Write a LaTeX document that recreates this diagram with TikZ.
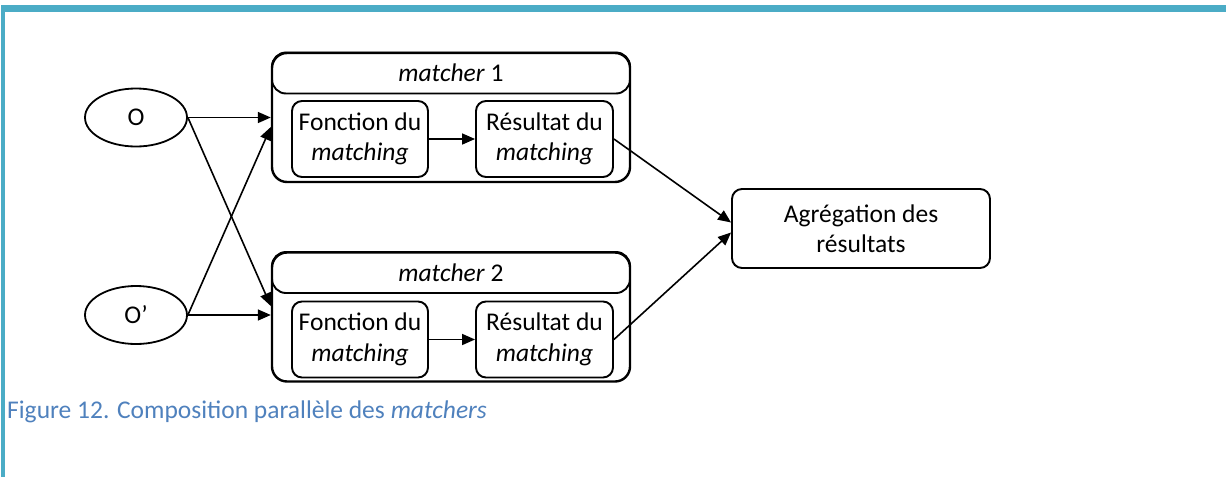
\documentclass[tikz,border=0pt]{standalone}
\usepackage{fontspec}
\setmainfont{Carlito}
\usetikzlibrary{shapes.geometric,arrows.meta,calc}
\definecolor{framec}{HTML}{4BACC6}
\definecolor{capc}{HTML}{4F81BD}
\begin{document}
\begin{tikzpicture}[x=1pt,y=-1pt,
  every node/.style={font=\fontsize{25.5}{30.5}\selectfont, inner sep=0pt},
  ell/.style={ellipse, draw, line width=1.8pt, minimum width=102, minimum height=58},
  outerbox/.style={draw, line width=2.4pt, rounded corners=15, minimum width=358, minimum height=129},
  hdrbox/.style={draw, line width=1.9pt, rounded corners=14, minimum width=358, minimum height=41},
  innerbox/.style={draw, line width=1.9pt, rounded corners=10, minimum height=76, align=center},
  aggbox/.style={draw, line width=1.9pt, rounded corners=10, minimum width=258, minimum height=79, align=center},
  conn/.style={line width=1.6pt, -{Triangle[length=13pt,width=11pt]}}
]
\useasboundingbox (0,0) rectangle (1226,477);
\fill[framec] (1,5) rectangle (1226,12);
\fill[framec] (1,5) rectangle (5,477);

\node[ell] (O) at (136,117.5) {O};
\node[ell] (Op) at (136,315) {O’};

\node[outerbox] (m1) at (451,117.5) {};
\node[hdrbox] (h1) at (451,73) {\textit{matcher} 1};
\node[innerbox, minimum width=136] (f1) at (360,139) {Fonction du\\\textit{matching}};
\node[innerbox, minimum width=137] (r1) at (544.5,139) {Résultat du\\\textit{matching}};

\node[outerbox] (m2) at (451,317) {};
\node[hdrbox] (h2) at (451,272.5) {\textit{matcher} 2};
\node[innerbox, minimum width=136] (f2) at (360,339.5) {Fonction du\\\textit{matching}};
\node[innerbox, minimum width=137] (r2) at (544.5,339.5) {Résultat du\\\textit{matching}};

\node[aggbox] (agg) at (861,228.5) {Agrégation des\\résultats};

\coordinate (m1a) at ($(m1.west)+(0,9.5)$);
\coordinate (m2a) at ($(m2.west)+(0,-11)$);
\coordinate (agga) at ($(agg.west)+(0,-6)$);
\coordinate (aggb) at ($(agg.west)+(0,4)$);

\draw[conn] (O.east) -- (O.east -| m1.west);
\draw[conn] (O.east) -- (m2a);
\draw[conn] (Op.east) -- (Op.east -| m2.west);
\draw[conn] (Op.east) -- (m1a);
\draw[conn] (f1) -- (r1);
\draw[conn] (f2) -- (r2);
\draw[conn] (r1.east) -- (agga);
\draw[conn] (r2.east) -- (aggb);

\node[anchor=west, text=capc] (cap) at (7,412) {Figure 12. Composition parallèle des \textit{matchers}};
\end{tikzpicture}
\end{document}
